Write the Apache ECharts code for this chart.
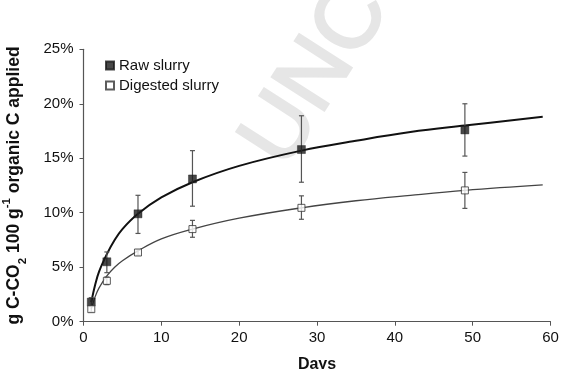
<!DOCTYPE html>
<html>
<head>
<meta charset="utf-8">
<script src="https://cdn.jsdelivr.net/npm/echarts@6/dist/echarts.min.js"></script>
<style>html,body{margin:0;padding:0;background:#fff;}#c{width:562px;height:369px;}</style>
</head>
<body>
<div id="c"></div>
<script>
// Measured points (days, % of applied C)
var days = [1, 3, 7, 14, 28, 49];
var rawMean = [1.8, 5.5, 9.9, 13.1, 15.8, 17.6];
var rawLow  = [1.4, 4.5, 8.1, 10.6, 12.8, 15.2];
var rawHigh = [2.2, 6.4, 11.6, 15.7, 18.9, 20.0];
var digMean = [1.15, 3.75, 6.35, 8.5, 10.45, 12.05];
var digLow  = [0.9, 3.4, 6.1, 7.75, 9.4, 10.4];
var digHigh = [1.4, 4.1, 6.6, 9.3, 11.55, 13.7];
// Fitted trend curves
var curveDays = [1, 1.5, 2, 3, 4, 5, 7, 10, 14, 20, 28, 35, 42, 49, 59];
var rawCurve  = [1.8, 3.4, 4.6, 6.2, 7.5, 8.5, 9.9, 11.4, 12.8, 14.3, 15.7, 16.6, 17.4, 18.0, 18.8];
var digCurve  = [1.15, 2.3, 3.1, 4.2, 5.0, 5.6, 6.5, 7.6, 8.5, 9.5, 10.45, 11.1, 11.6, 12.05, 12.55];
var xTicks = [0, 10, 20, 30, 40, 50, 60];
var yTicks = [0, 5, 10, 15, 20, 25];

function pairs(xs, ys) { return xs.map(function (x, i) { return [x, ys[i]]; }); }
function errData(lo, hi) { return days.map(function (d, i) { return [d, lo[i], hi[i]]; }); }

function errRender(params, api) {
  var x = api.value(0);
  var p1 = api.coord([x, api.value(1)]);
  var p2 = api.coord([x, api.value(2)]);
  var w = 2.5;
  var st = { stroke: '#555', lineWidth: 1.2 };
  return {
    type: 'group',
    children: [
      { type: 'line', shape: { x1: p1[0], y1: p1[1], x2: p2[0], y2: p2[1] }, style: st },
      { type: 'line', shape: { x1: p1[0] - w, y1: p1[1], x2: p1[0] + w, y2: p1[1] }, style: st },
      { type: 'line', shape: { x1: p2[0] - w, y1: p2[1], x2: p2[0] + w, y2: p2[1] }, style: st }
    ]
  };
}

var chart = echarts.init(document.getElementById('c'), null, { renderer: 'canvas' });
var font = 'Liberation Sans, Arial, sans-serif';
chart.setOption({
  animation: false,
  backgroundColor: '#fff',
  textStyle: { fontFamily: font },
  graphic: [{
    type: 'text', position: [302, 182], z: -10, rotation: 1.0,
    style: { text: 'UNCORRECTED', fill: '#e6e6e6', stroke: '#e6e6e6', lineWidth: 2.5,
      font: '90px ' + font, textAlign: 'left', textVerticalAlign: 'bottom' }
  }],
  grid: { left: 83.5, right: 11.5, top: 49.3, bottom: 47.3, containLabel: false, outerBoundsMode: 'none' },
  legend: {
    orient: 'vertical', left: 100, top: 53, itemWidth: 8, itemHeight: 8, itemGap: 5,
    textStyle: { fontSize: 15, color: '#111', fontFamily: font },
    data: [{ name: 'Raw slurry', icon: 'rect' }, { name: 'Digested slurry', icon: 'rect' }]
  },
  xAxis: {
    type: 'value', min: 0, max: 60, interval: 10,
    name: 'Days', nameLocation: 'middle', nameGap: 35,
    nameTextStyle: { fontWeight: 'bold', fontSize: 16, color: '#111', fontFamily: font },
    axisLine: { lineStyle: { color: '#555', width: 1.2 } },
    axisTick: { show: true, length: 4, lineStyle: { color: '#555' } },
    axisLabel: { fontSize: 15, color: '#111', margin: 9,
      formatter: function (v) { return xTicks.indexOf(v) >= 0 ? String(v) : ''; } },
    splitLine: { show: false }
  },
  yAxis: {
    type: 'value', min: 0, max: 25, interval: 5,
    name: 'g C-CO{sub|2} 100 g{sup|-1} organic C applied', nameLocation: 'middle', nameGap: 60,
    nameRotate: 90,
    nameTextStyle: { fontWeight: 'bold', fontSize: 17.5, color: '#111', fontFamily: font,
      rich: {
        sub: { fontWeight: 'bold', fontSize: 11.5, color: '#111', verticalAlign: 'bottom', padding: [0, 0, -5, 0] },
        sup: { fontWeight: 'bold', fontSize: 11.5, color: '#111', verticalAlign: 'top', padding: [-5, 0, 0, 0] }
      } },
    axisLine: { show: true, lineStyle: { color: '#555', width: 1.2 } },
    axisTick: { show: true, length: 4, lineStyle: { color: '#555' } },
    axisLabel: { fontSize: 15, color: '#111', margin: 10,
      formatter: function (v) { return yTicks.indexOf(v) >= 0 ? v + '%' : ''; } },
    splitLine: { show: false }
  },
  series: [
    { name: 'rawFit', type: 'line', data: pairs(curveDays, rawCurve), smooth: 0.4, symbol: 'none',
      lineStyle: { color: '#111', width: 2 }, z: 2 },
    { name: 'digFit', type: 'line', data: pairs(curveDays, digCurve), smooth: 0.4, symbol: 'none',
      lineStyle: { color: '#444', width: 1.3 }, z: 2 },
    { name: 'rawErr', type: 'custom', renderItem: errRender, data: errData(rawLow, rawHigh), z: 3 },
    { name: 'digErr', type: 'custom', renderItem: errRender, data: errData(digLow, digHigh), z: 3 },
    { name: 'Raw slurry', type: 'scatter', data: pairs(days, rawMean), symbol: 'rect', symbolSize: 8,
      itemStyle: { color: '#1a1a1a', borderColor: '#1a1a1a', borderWidth: 0.5 }, z: 5 },
    { name: 'Digested slurry', type: 'scatter', data: pairs(days, digMean), symbol: 'rect', symbolSize: 7,
      itemStyle: { color: '#fff', borderColor: '#333', borderWidth: 1 }, z: 5 }
  ]
});
</script>
</body>
</html>
